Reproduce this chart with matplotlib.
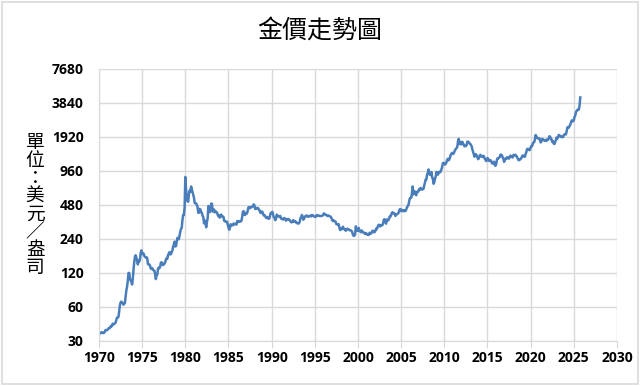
import matplotlib
matplotlib.use("Agg")
import matplotlib.pyplot as plt
from matplotlib.patches import Rectangle
import numpy as np

# Monthly gold price (USD/oz)
prices_by_year = {
    1970: [34.9, 35.0, 35.1, 35.6, 35.9, 35.4, 35.3, 35.4, 36.2, 37.5, 37.4, 37.4],
    1971: [37.9, 38.7, 38.9, 39.0, 40.5, 40.1, 41.0, 42.7, 42.0, 42.5, 42.9, 43.5],
    1972: [45.8, 48.3, 48.3, 49.0, 54.6, 62.1, 65.7, 67.0, 65.5, 64.9, 62.9, 63.9],
    1973: [65.1, 74.2, 84.4, 90.5, 102.0, 120.1, 120.2, 106.8, 103.0, 100.1, 94.9, 106.7],
    1974: [129.2, 150.2, 168.4, 172.2, 163.3, 154.1, 143.0, 154.6, 151.8, 158.8, 181.7, 190.0],
    1975: [176.3, 179.6, 178.2, 170.0, 167.0, 164.2, 165.2, 163.1, 144.1, 142.8, 142.8, 139.3],
    1976: [131.1, 131.0, 132.6, 128.0, 126.9, 125.7, 117.7, 106.0, 114.3, 116.0, 130.6, 133.9],
    1977: [132.3, 136.3, 148.3, 149.2, 146.7, 140.8, 143.3, 144.8, 149.4, 158.2, 162.4, 160.5],
    1978: [173.2, 178.2, 183.7, 175.1, 176.3, 183.7, 188.7, 206.0, 212.4, 227.3, 206.0, 207.8],
    1979: [227.3, 245.7, 242.0, 239.2, 257.6, 279.1, 294.7, 300.8, 355.1, 391.7, 392.5, 455.1],
    1980: [850.0, 665.3, 553.6, 517.4, 513.8, 600.7, 644.3, 627.2, 700.0, 661.2, 623.5, 594.9],
    1981: [557.4, 500.0, 498.0, 495.8, 479.7, 460.8, 409.3, 410.1, 443.4, 437.8, 413.4, 410.1],
    1982: [384.2, 374.2, 330.4, 350.5, 333.9, 305.0, 339.4, 364.5, 470.0, 422.6, 414.8, 444.5],
    1983: [495.0, 490.2, 419.7, 432.8, 437.7, 412.9, 422.9, 416.2, 411.7, 393.7, 381.7, 388.1],
    1984: [370.9, 386.5, 394.8, 381.4, 377.4, 377.7, 347.7, 347.7, 341.1, 340.2, 341.2, 320.2],
    1985: [302.8, 290.0, 303.9, 324.4, 316.8, 316.8, 317.4, 329.3, 323.6, 326.0, 325.3, 321.5],
    1986: [345.4, 338.9, 345.7, 340.4, 342.5, 342.8, 348.4, 376.6, 418.4, 423.6, 395.0, 391.3],
    1987: [408.2, 401.1, 408.9, 438.4, 460.5, 449.2, 450.5, 460.3, 460.2, 465.4, 467.6, 486.3],
    1988: [477.8, 442.4, 443.6, 451.7, 451.7, 451.5, 437.5, 432.7, 413.4, 406.8, 420.4, 418.6],
    1989: [404.0, 387.8, 390.2, 384.3, 371.0, 367.6, 375.0, 365.4, 361.8, 366.9, 394.3, 409.2],
    1990: [410.1, 416.8, 393.1, 374.3, 369.0, 352.3, 362.5, 394.7, 389.3, 380.7, 381.9, 378.2],
    1991: [383.6, 363.8, 363.3, 358.4, 357.4, 366.7, 367.7, 356.4, 348.7, 358.7, 359.9, 361.8],
    1992: [354.5, 353.9, 344.3, 338.6, 337.2, 340.8, 352.7, 342.9, 345.4, 344.4, 335.0, 334.8],
    1993: [329.0, 329.4, 330.1, 342.2, 367.2, 372.0, 392.0, 379.8, 355.3, 364.2, 373.8, 383.3],
    1994: [386.9, 381.9, 384.1, 377.3, 381.4, 385.6, 385.5, 380.4, 391.6, 389.8, 384.4, 379.5],
    1995: [378.6, 376.5, 382.1, 391.0, 385.3, 387.6, 386.2, 383.7, 383.1, 383.1, 385.5, 387.4],
    1996: [399.5, 404.8, 396.2, 392.9, 391.9, 385.3, 383.5, 387.5, 383.1, 381.1, 377.9, 369.3],
    1997: [354.1, 346.6, 351.8, 344.5, 343.8, 340.8, 324.1, 324.0, 322.8, 324.9, 306.0, 288.7],
    1998: [289.1, 297.5, 295.9, 308.4, 299.1, 292.3, 292.9, 284.1, 288.9, 296.3, 294.1, 291.7],
    1999: [287.1, 287.3, 286.0, 282.6, 276.4, 261.3, 256.2, 256.7, 264.7, 310.7, 293.2, 283.1],
    2000: [284.6, 300.6, 286.4, 280.0, 275.3, 285.7, 281.6, 274.5, 273.7, 270.0, 266.0, 271.5],
    2001: [265.5, 261.9, 263.0, 260.5, 272.4, 270.2, 267.5, 272.4, 283.4, 283.1, 276.2, 275.9],
    2002: [281.7, 295.5, 294.0, 302.7, 314.5, 321.2, 313.3, 310.3, 319.2, 316.6, 319.2, 333.4],
    2003: [356.9, 359.0, 340.6, 328.2, 355.7, 356.4, 351.0, 359.8, 378.9, 378.9, 389.9, 407.6],
    2004: [414.0, 405.3, 406.7, 403.0, 383.8, 392.4, 398.1, 400.5, 405.3, 420.5, 439.4, 442.1],
    2005: [424.0, 423.4, 434.2, 429.2, 421.9, 430.7, 424.5, 437.9, 456.0, 469.9, 476.7, 509.8],
    2006: [549.9, 555.0, 557.1, 610.6, 700.0, 596.2, 633.8, 632.6, 598.2, 585.8, 627.8, 629.8],
    2007: [631.2, 664.8, 654.9, 679.4, 666.9, 655.5, 665.3, 665.4, 712.7, 754.6, 806.3, 803.2],
    2008: [889.6, 922.3, 990.0, 909.7, 888.7, 889.5, 939.8, 839.0, 829.9, 740.0, 760.9, 816.1],
    2009: [858.7, 943.2, 924.3, 890.2, 928.6, 945.7, 934.2, 949.4, 996.6, 1043.2, 1127.0, 1134.7],
    2010: [1117.9, 1095.4, 1113.3, 1148.7, 1205.4, 1232.9, 1193.0, 1215.8, 1271.0, 1342.0, 1369.9, 1390.6],
    2011: [1356.4, 1372.7, 1424.0, 1473.8, 1510.4, 1528.7, 1572.8, 1755.8, 1850.0, 1665.2, 1738.9, 1652.3],
    2012: [1656.1, 1742.6, 1673.8, 1650.1, 1585.5, 1596.7, 1594.3, 1630.3, 1744.5, 1746.6, 1721.6, 1684.8],
    2013: [1671.9, 1627.6, 1593.1, 1487.9, 1414.0, 1343.4, 1285.5, 1351.7, 1348.6, 1316.6, 1275.9, 1221.5],
    2014: [1244.3, 1300.0, 1336.1, 1299.0, 1287.5, 1279.1, 1310.6, 1295.1, 1236.6, 1222.5, 1175.3, 1200.6],
    2015: [1250.8, 1227.1, 1178.6, 1198.9, 1198.6, 1181.5, 1128.3, 1117.9, 1124.6, 1159.3, 1086.4, 1068.3],
    2016: [1097.9, 1199.5, 1245.1, 1242.3, 1260.9, 1276.4, 1336.7, 1340.2, 1326.6, 1266.6, 1238.4, 1157.4],
    2017: [1192.1, 1234.2, 1231.4, 1266.9, 1246.0, 1260.3, 1236.8, 1283.0, 1314.1, 1279.5, 1281.9, 1264.5],
    2018: [1331.3, 1330.7, 1324.7, 1334.8, 1303.5, 1281.6, 1237.7, 1201.7, 1198.4, 1215.4, 1220.7, 1250.4],
    2019: [1291.8, 1320.1, 1300.9, 1285.9, 1283.7, 1359.0, 1412.9, 1500.4, 1510.6, 1494.8, 1470.0, 1479.1],
    2020: [1560.7, 1597.1, 1591.9, 1683.2, 1715.9, 1732.2, 1846.5, 2000.0, 1921.9, 1900.3, 1866.3, 1858.4],
    2021: [1867.0, 1808.2, 1718.2, 1760.0, 1850.3, 1834.6, 1807.8, 1785.3, 1775.1, 1776.9, 1821.0, 1790.4],
    2022: [1816.0, 1856.3, 1947.8, 1937.4, 1848.5, 1836.6, 1732.7, 1764.6, 1680.7, 1664.5, 1725.1, 1797.6],
    2023: [1898.4, 1854.4, 1912.7, 2000.4, 1991.5, 1942.9, 1951.0, 1918.7, 1916.9, 1916.9, 1985.8, 2026.4],
    2024: [2033.7, 2025.8, 2158.7, 2331.1, 2351.0, 2326.6, 2398.4, 2470.2, 2570.8, 2690.8, 2650.6, 2648.0],
    2025: [2709.7, 2894.4, 2983.3, 3193.3, 3276.0, 3345.7, 3340.0, 3368.0, 3665.0, 4300.0],
}

title_text = "金價走勢圖"
ylabel_text = "單位：美元／盎司"
y_ticks = [30, 60, 120, 240, 480, 960, 1920, 3840, 7680]
x_ticks = [1970, 1975, 1980, 1985, 1990, 1995, 2000, 2005, 2010, 2015, 2020, 2025, 2030]

dates = []
values = []
for yr, vals in prices_by_year.items():
    for m, v in enumerate(vals):
        dates.append(yr + m / 12.0)
        values.append(v)

W, H = 640, 386
fig = plt.figure(figsize=(W / 100, H / 100), dpi=100)
fig.patch.set_facecolor("white")
fig.patches.append(Rectangle((0.003, 0.004), 0.994, 0.992, transform=fig.transFigure,
                             fill=False, edgecolor="#d9d9d9", linewidth=1.2))

ax = fig.add_axes([99 / W, 1 - 341 / H, (617 - 99) / W, (341 - 69) / H])
ax.plot(dates, values, color="#4a7ebb", linewidth=1.8, solid_joinstyle="round")
ax.set_yscale("log", base=2)
ax.set_ylim(30, 7680)
ax.set_xlim(1970, 2030)
ax.set_yticks(y_ticks)
ax.set_yticklabels([str(t) for t in y_ticks])
ax.yaxis.set_minor_locator(matplotlib.ticker.NullLocator())
ax.set_xticks(x_ticks)
ax.set_xticklabels([str(t) for t in x_ticks])

for lab in ax.get_xticklabels() + ax.get_yticklabels():
    lab.set_fontfamily("Open Sans")
    lab.set_fontweight("bold")
    lab.set_fontsize(10)
    lab.set_color("#000000")

ax.grid(True, color="#d9d9d9", linewidth=1.0)
ax.set_axisbelow(True)
for s in ["top", "right"]:
    ax.spines[s].set_visible(False)
ax.spines["left"].set_color("#d9d9d9")
ax.spines["bottom"].set_color("#d9d9d9")
ax.tick_params(axis="y", length=0, pad=11)
ax.tick_params(axis="x", length=5, color="#d9d9d9", pad=2)

cjk = ["Noto Sans CJK TC", "DejaVu Sans"]
fig.text(0.5, 1 - 31 / H, title_text, ha="center", va="center",
         fontsize=18, family=cjk)

# vertical, stacked y-axis label (one text object)
fig.text(35 / W, 1 - 205 / H, "\n".join(ylabel_text), ha="center", va="center",
         fontsize=13.5, family=cjk, linespacing=0.81, multialignment="center")

fig.savefig("out.png", dpi=100, facecolor="white")
